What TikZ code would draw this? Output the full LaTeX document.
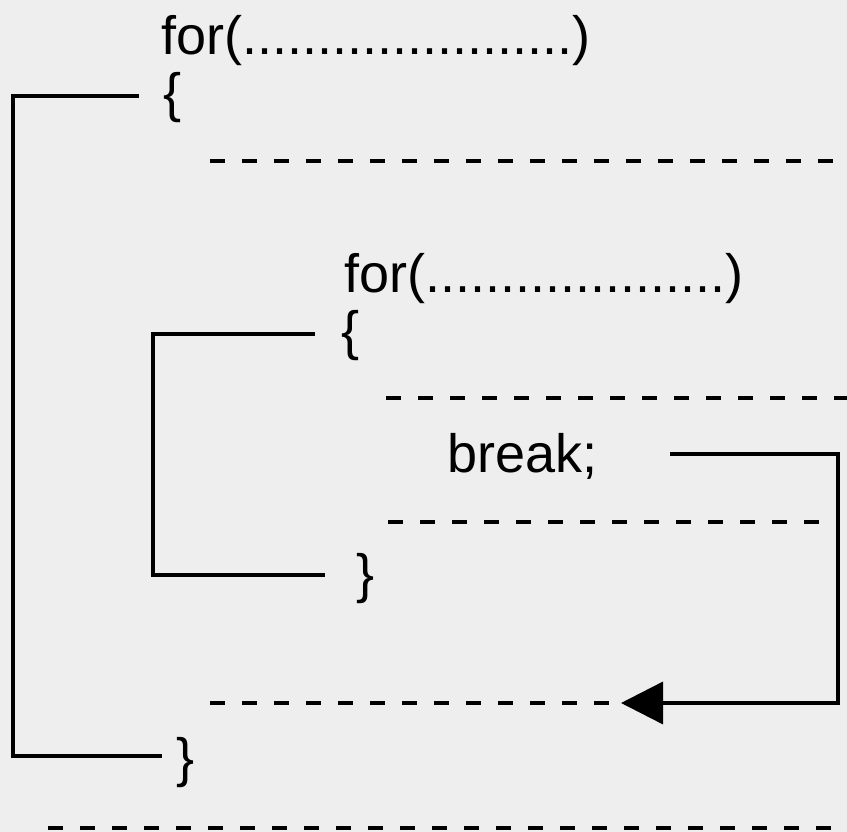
\documentclass[tikz,border=0pt]{standalone}
\usepackage{fontspec}
\setmainfont{Liberation Sans}
\usetikzlibrary{arrows.meta}
\definecolor{paper}{RGB}{238,238,238}
\begin{document}
\begin{tikzpicture}[x=1pt,y=-1pt,
  code/.style={inner sep=0pt,anchor=base west,font=\fontsize{54}{60}\selectfont},
  bracket/.style={line width=3.5pt,line cap=butt,line join=miter},
  stmt/.style={line width=3.5pt,dash pattern=on 15pt off 17pt}]
  % page
  \fill[paper] (0,0) rectangle (847,832);
  \useasboundingbox (0,0) rectangle (847,832);

  % outer loop
  \node[code] (for1) at (161,55) {for(......................)};
  \node[code] (open1) at (163,112) {\{};
  \node[code] (close1) at (176,776) {\}};

  % inner loop
  \node[code] (for2) at (344,292) {for(....................)};
  \node[code] (open2) at (341,349) {\{};
  \node[code] (close2) at (356,592) {\}};

  \node[code] (brk) at (447,472) {break;};

  % statements (dashed)
  \coordinate (s1a) at (210,161);  \coordinate (s1b) at (847,161);
  \coordinate (s2a) at (386,398);  \coordinate (s2b) at (847,398);
  \coordinate (s3a) at (388,522);  \coordinate (s3b) at (834,522);
  \coordinate (s4a) at (210,703);  \coordinate (s4b) at (621,703);
  \coordinate (s5a) at (48,828);   \coordinate (s5b) at (847,828);
  \draw[stmt] (s1a) -- (s1b);
  \draw[stmt] (s2a) -- (s2b);
  \draw[stmt] (s3a) -- (s3b);
  \draw[stmt] (s4a) -- (s4b);
  \draw[stmt] (s5a) -- (s5b);

  % loop brackets
  \coordinate (o1) at (139,96);
  \coordinate (o2) at (162,756);
  \draw[bracket] (o1) -- (13,96) -- (13,756) -- (o2);
  \coordinate (i1) at (315,334);
  \coordinate (i2) at (325,575);
  \draw[bracket] (i1) -- (153,334) -- (153,575) -- (i2);

  % jump out of the inner loop
  \coordinate (b1) at (670,454);
  \draw[bracket,-{Triangle[length=42pt,width=42pt]}]
    (b1) -- (838,454) -- (838,703) -- (s4b);
\end{tikzpicture}
\end{document}
